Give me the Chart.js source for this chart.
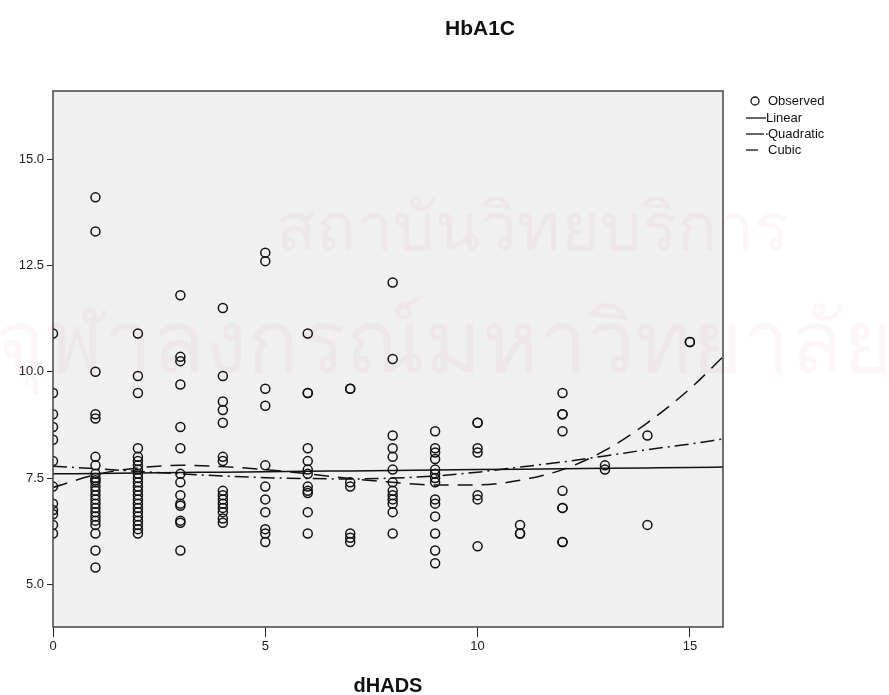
<!DOCTYPE html>
<html>
<head>
<meta charset="utf-8">
<script src="https://cdn.jsdelivr.net/npm/chart.js@4.4.0/dist/chart.umd.min.js"></script>
<style>
html, body { margin: 0; padding: 0; background: #fff; }
#wrap { width: 889px; height: 695px; }
</style>
</head>
<body>
<div id="wrap"><canvas id="chart-hba1c"></canvas></div>
<script>
// observed HbA1C values, one list per dHADS score
const dhadsScores = [0, 1, 2, 3, 4, 5, 6, 7, 8, 9, 10, 11, 12, 13, 14, 15];
const hba1cValues = [
    [10.9, 9.5, 9.0, 8.7, 8.4, 7.9, 7.3, 6.9, 6.75, 6.65, 6.4, 6.2],
    [14.1, 13.3, 10.0, 9.0, 8.9, 8.0, 7.8, 7.6, 7.5, 7.45, 7.4, 7.3, 7.2, 7.1, 7.0, 6.9, 6.8, 6.7, 6.6, 6.5, 6.4, 6.2, 5.8, 5.4],
    [10.9, 9.9, 9.5, 8.2, 8.0, 7.9, 7.8, 7.7, 7.6, 7.5, 7.4, 7.3, 7.2, 7.1, 7.0, 6.9, 6.8, 6.7, 6.6, 6.5, 6.4, 6.3, 6.2],
    [11.8, 10.35, 10.25, 9.7, 8.7, 8.2, 7.6, 7.4, 7.1, 6.9, 6.85, 6.5, 6.45, 5.8],
    [11.5, 9.9, 9.3, 9.1, 8.8, 8.0, 7.9, 7.2, 7.1, 7.0, 6.9, 6.8, 6.7, 6.55, 6.45],
    [12.8, 12.6, 9.6, 9.2, 7.8, 7.3, 7.0, 6.7, 6.3, 6.2, 6.0],
    [10.9, 9.5, 9.5, 8.2, 7.9, 7.7, 7.6, 7.3, 7.2, 7.15, 6.7, 6.2],
    [9.6, 9.6, 7.4, 7.3, 6.2, 6.1, 6.0],
    [12.1, 10.3, 8.5, 8.2, 8.0, 7.7, 7.4, 7.2, 7.1, 7.0, 6.9, 6.7, 6.2],
    [8.6, 8.2, 8.1, 7.95, 7.7, 7.6, 7.5, 7.4, 7.0, 6.9, 6.6, 6.2, 5.8, 5.5],
    [8.8, 8.8, 8.2, 8.1, 7.1, 7.0, 5.9],
    [6.4, 6.2, 6.2],
    [9.5, 9.0, 9.0, 8.6, 7.2, 6.8, 6.8, 6.0, 6.0],
    [7.8, 7.7],
    [8.5, 6.4],
    [10.7, 10.7]
];

// fitted curves
const fitX = [0, 1, 2, 3, 4, 5, 6, 7, 8, 9, 10, 11, 12, 13, 14, 15, 15.78];
const linearFit = [7.60, 7.61, 7.62, 7.63, 7.64, 7.65, 7.66, 7.67, 7.68, 7.69, 7.70, 7.71, 7.72, 7.73, 7.74, 7.75, 7.76];
const quadraticFit = [7.78, 7.72, 7.66, 7.60, 7.55, 7.51, 7.49, 7.48, 7.50, 7.55, 7.64, 7.76, 7.88, 8.02, 8.17, 8.30, 8.42];
const cubicFit = [7.28, 7.58, 7.74, 7.80, 7.77, 7.70, 7.60, 7.49, 7.40, 7.34, 7.34, 7.45, 7.70, 8.15, 8.80, 9.60, 10.35];

const xTickValues = [0, 5, 10, 15];
const yTickValues = [5.0, 7.5, 10.0, 12.5, 15.0];

const legendLabels = ['Observed', 'Linear', 'Quadratic', 'Cubic'];
const watermarkLines = ['สถาบันวิทยบริการ', 'จุฬาลงกรณ์มหาวิทยาลัย'];

const FONT = '"Liberation Sans", Arial, sans-serif';

function toPoints(xs, ys) {
    return xs.map(function (x, i) { return {x: x, y: ys[i]}; });
}

let observedPoints = [];
dhadsScores.forEach(function (score, i) {
    hba1cValues[i].forEach(function (v) {
        observedPoints.push({x: score, y: v});
    });
});

const spssFrame = {
    id: 'spssFrame',
    beforeDatasetsDraw: function (chart) {
        const ctx = chart.ctx;
        const a = chart.chartArea;
        ctx.save();
        ctx.fillStyle = '#f0f0f0';
        ctx.fillRect(a.left, a.top, a.right - a.left, a.bottom - a.top);
        // faint watermark
        ctx.fillStyle = 'rgba(200, 110, 150, 0.06)';
        ctx.textAlign = 'center';
        ctx.textBaseline = 'alphabetic';
        ctx.font = '66px "Noto Sans", "DejaVu Sans", sans-serif';
        ctx.fillText(watermarkLines[0], 532, 250);
        ctx.font = '86px "Noto Sans", "DejaVu Sans", sans-serif';
        ctx.fillText(watermarkLines[1], 444, 372);
        ctx.restore();
    },
    afterDraw: function (chart) {
        const ctx = chart.ctx;
        const a = chart.chartArea;
        ctx.save();
        ctx.strokeStyle = '#444';
        ctx.lineWidth = 1.5;
        ctx.strokeRect(a.left, a.top, a.right - a.left, a.bottom - a.top);

        // titles
        ctx.fillStyle = '#111';
        ctx.textAlign = 'center';
        ctx.textBaseline = 'middle';
        ctx.font = 'bold 21px ' + FONT;
        ctx.fillText('HbA1C', 480, 29);
        ctx.font = 'bold 20px ' + FONT;
        ctx.fillText('dHADS', (a.left + a.right) / 2, 686);

        // legend
        const lx = 746;
        const ty = [101, 118, 134, 150];
        ctx.font = '13px ' + FONT;
        ctx.textAlign = 'left';
        ctx.strokeStyle = '#111';
        ctx.lineWidth = 1.3;
        ctx.beginPath();
        ctx.arc(lx + 9, ty[0], 4, 0, Math.PI * 2);
        ctx.stroke();
        ctx.fillText(legendLabels[0], lx + 22, ty[0]);

        ctx.beginPath();
        ctx.moveTo(lx, ty[1]); ctx.lineTo(lx + 20, ty[1]);
        ctx.stroke();
        ctx.fillText(legendLabels[1], lx + 20, ty[1]);

        ctx.beginPath();
        ctx.moveTo(lx, ty[2]); ctx.lineTo(lx + 18, ty[2]);
        ctx.stroke();
        ctx.fillRect(lx + 20, ty[2] - 0.6, 1.5, 1.5);
        ctx.fillText(legendLabels[2], lx + 22, ty[2]);

        ctx.beginPath();
        ctx.moveTo(lx, ty[3]); ctx.lineTo(lx + 12, ty[3]);
        ctx.stroke();
        ctx.fillText(legendLabels[3], lx + 22, ty[3]);
        ctx.restore();
    }
};

function fitDataset(label, ys, dash) {
    return {
        type: 'line',
        label: label,
        data: toPoints(fitX, ys),
        borderColor: '#111',
        borderWidth: 1.5,
        borderDash: dash,
        pointRadius: 0,
        fill: false,
        cubicInterpolationMode: 'monotone',
        clip: 0
    };
}

const ctx = document.getElementById('chart-hba1c');
new Chart(ctx, {
    type: 'scatter',
    data: {
        datasets: [
            fitDataset('Linear', linearFit, []),
            fitDataset('Quadratic', quadraticFit, [14, 5, 2, 5]),
            fitDataset('Cubic', cubicFit, [15, 9]),
            {
                label: 'Observed',
                data: observedPoints,
                pointStyle: 'circle',
                pointRadius: 4.5,
                pointBorderWidth: 1.5,
                borderColor: '#111',
                backgroundColor: 'rgba(0,0,0,0)',
                clip: 0
            }
        ]
    },
    options: {
        responsive: true,
        maintainAspectRatio: false,
        animation: false,
        layout: {
            padding: {left: 0, right: 166, top: 91, bottom: 0}
        },
        plugins: {
            legend: {display: false},
            title: {display: false},
            tooltip: {enabled: false}
        },
        scales: {
            x: {
                type: 'linear',
                min: 0,
                max: 15.78,
                afterFit: function (s) { s.height = 68; },
                afterBuildTicks: function (s) {
                    s.ticks = xTickValues.map(function (v) { return {value: v}; });
                },
                grid: {
                    drawOnChartArea: false,
                    drawTicks: true,
                    tickLength: 10,
                    color: '#222'
                },
                border: {display: false},
                ticks: {
                    color: '#222',
                    padding: 2,
                    font: {family: FONT, size: 13},
                    callback: function (v) { return v; }
                }
            },
            y: {
                type: 'linear',
                min: 4.0,
                max: 16.6,
                afterFit: function (s) { s.width = 53; },
                afterBuildTicks: function (s) {
                    s.ticks = yTickValues.map(function (v) { return {value: v}; });
                },
                grid: {
                    drawOnChartArea: false,
                    drawTicks: true,
                    tickLength: 6,
                    color: '#222'
                },
                border: {display: false},
                ticks: {
                    color: '#222',
                    padding: 3,
                    font: {family: FONT, size: 13},
                    callback: function (v) { return Number(v).toFixed(1); }
                }
            }
        }
    },
    plugins: [spssFrame]
});
</script>
</body>
</html>
